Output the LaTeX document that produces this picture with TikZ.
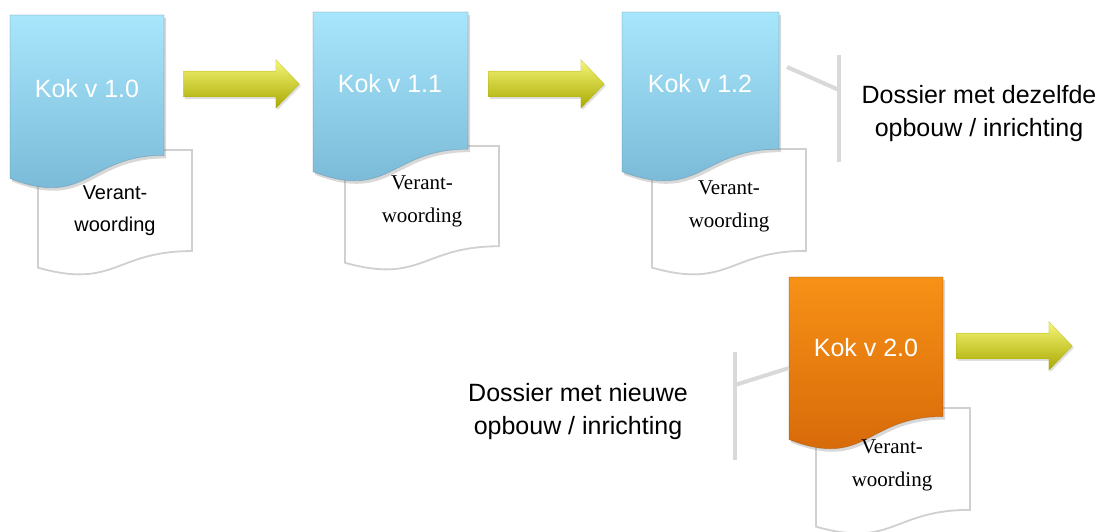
\documentclass[tikz,border=0pt]{standalone}
\usepackage{fontspec}
\setmainfont{Liberation Serif}
\setsansfont{Liberation Sans}
\usetikzlibrary{shapes.arrows,shadows}

\definecolor{kokblueA}{RGB}{168,230,252}
\definecolor{kokblueB}{RGB}{118,182,212}
\definecolor{kokorangeA}{RGB}{247,145,22}
\definecolor{kokorangeB}{RGB}{212,102,8}
\definecolor{pijlA}{RGB}{246,246,120}
\definecolor{pijlB}{RGB}{226,226,10}
\definecolor{pijlC}{RGB}{168,168,0}
\definecolor{haakgrijs}{RGB}{217,217,217}
\definecolor{randgrijs}{RGB}{208,208,208}

% document shape with wavy bottom: x, y (top left), width, height, style
\def\kokdoc#1#2#3#4#5{
    \path[#5] (#1,#2) -- ({#1+#3},#2) -- ({#1+#3},{#2+0.802*#4})
        .. controls ({#1+#3/2},{#2+0.802*#4}) and ({#1+#3/2},{#2+1.107*#4})
        .. (#1,{#2+0.934*#4}) -- cycle;
}

\begin{document}
\begin{tikzpicture}[x=1pt,y=-1pt]
    \tikzstyle{front doc}=[drop shadow={opacity=0.3,shadow xshift=2pt,shadow yshift=-3pt}]
    \tikzstyle{blue doc}=[front doc,top color=kokblueA,bottom color=kokblueB,
        draw=kokblueB!70!black,draw opacity=0.35,line width=0.8pt]
    \tikzstyle{orange doc}=[front doc,top color=kokorangeA,bottom color=kokorangeB,
        draw=kokorangeB!70!black,draw opacity=0.35,line width=0.8pt]
    \tikzstyle{back doc}=[draw=randgrijs,line width=1.8pt,fill=white]
    \tikzstyle{kok label}=[text=white,font=\sffamily\fontsize{25}{30}\selectfont,inner sep=0pt]
    \tikzstyle{verant}=[align=center,inner sep=0pt,font=\fontsize{21}{33}\selectfont]
    \tikzstyle{dossier}=[align=center,inner sep=0pt,font=\sffamily\fontsize{25}{33}\selectfont]
    \tikzstyle{pijl}=[single arrow,anchor=tail,minimum height=116pt,inner xsep=0pt,inner ysep=12.5pt,
        single arrow head extend=11.5pt,single arrow tip angle=92,
        top color=pijlA,middle color=pijlB,bottom color=pijlC,
        draw=pijlC,draw opacity=0.4,line width=0.6pt,
        drop shadow={opacity=0.25,shadow xshift=1.5pt,shadow yshift=-2pt}]
    \tikzstyle{haak}=[draw=haakgrijs,line width=4pt]

    \fill[white] (0,0) rectangle (1101,531);
    \useasboundingbox (0,0) rectangle (1101,531);

    % the papers behind each version
    \foreach \x/\y/\h in {38/150/126, 345/146/125, 652/149/127, 816/408/127}
        \kokdoc{\x}{\y}{154}{\h}{back doc};

    % the versions
    \kokdoc{10}{15}{154}{175}{blue doc}
    \kokdoc{313}{12}{155}{171}{blue doc}
    \kokdoc{622}{12}{157}{171}{blue doc}
    \kokdoc{789}{277}{154}{174}{orange doc}

    \node[kok label] (K-1) at (87,89) {Kok v 1.0};
    \node[kok label] (K-2) at (390,84) {Kok v 1.1};
    \node[kok label] (K-3) at (700,84) {Kok v 1.2};
    \node[kok label] (K-4) at (866,348) {Kok v 2.0};

    \node[verant,font=\sffamily\fontsize{20}{32}\selectfont] (V-1) at (115,211) {Verant-\\woording};
    \node[verant] (V-2) at (422,201) {Verant-\\woording};
    \node[verant] (V-3) at (729,206) {Verant-\\woording};
    \node[verant] (V-4) at (892,465) {Verant-\\woording};

    % arrows between the versions
    \node[pijl] (P-1) at (183,84) {};
    \node[pijl] (P-2) at (488,84) {};
    \node[pijl] (P-3) at (956,346) {};

    % brackets with their notes
    \coordinate (h1-top) at (839,55);
    \coordinate (h1-bot) at (839,162);
    \coordinate (h1-mid) at (839,90);
    \coordinate (h1-arm) at (787,67);
    \draw[haak] (h1-top) -- (h1-bot);
    \draw[haak] (h1-arm) -- (h1-mid);
    \node[dossier] (D-1) at (979,114) {Dossier met dezelfde\\opbouw / inrichting};

    \coordinate (h2-top) at (735,352);
    \coordinate (h2-bot) at (735,460);
    \coordinate (h2-mid) at (735,385);
    \coordinate (h2-arm) at (789,368);
    \draw[haak] (h2-top) -- (h2-bot);
    \draw[haak] (h2-mid) -- (h2-arm);
    \node[dossier] (D-2) at (578,412) {Dossier met nieuwe\\opbouw / inrichting};

\end{tikzpicture}
\end{document}
